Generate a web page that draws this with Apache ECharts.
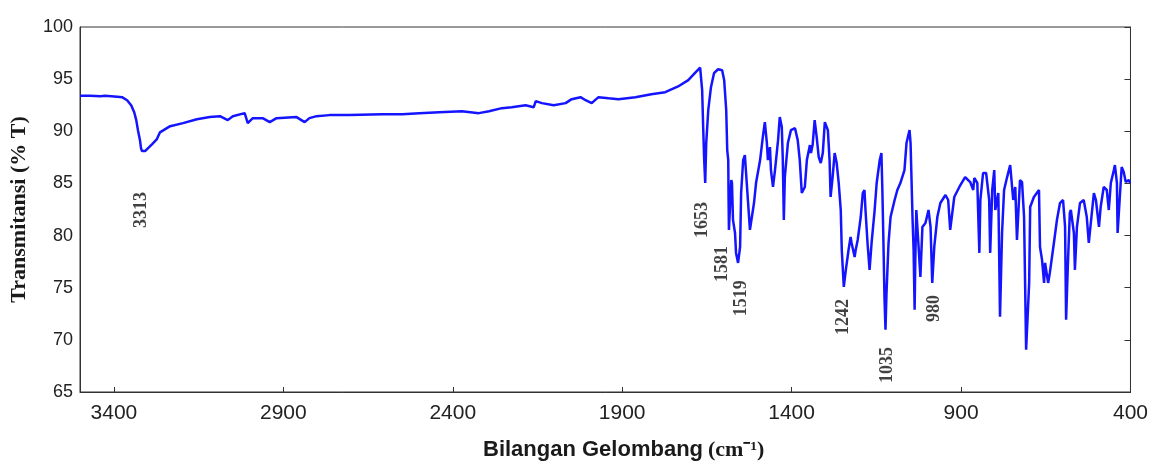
<!DOCTYPE html>
<html>
<head>
<meta charset="utf-8">
<script src="https://cdn.jsdelivr.net/npm/echarts@6/dist/echarts.min.js"></script>
<style>
html,body{margin:0;padding:0;background:#fff;}
#chart{width:1151px;height:461px;}
</style>
</head>
<body>
<div id="chart"></div>
<script>
const wavenumber = [
3500,3470,3440,3426,3390,3376,3361,3349,3340,3334,3329,3323,3320,3317,3308,3299,3287,3273,3264,3234,
3196,3155,3117,3087,3064,3049,3014,3005,2990,2961,2940,2920,2861,2837,2823,2802,2764,2705,2608,2549,
2499,2440,2373,2323,2293,2255,2226,2185,2161,2155,2137,2102,2067,2049,2023,2008,1990,1970,1940,1911,
1861,1814,1773,1735,1705,1685,1670,1664,1661,1658,1655,1652,1646,1638,1629,1617,1605,1599,1593,1590,
1587,1586,1585,1580,1578,1576,1573,1567,1564,1558,1552,1549,1543,1538,1535,1529,1523,1520,1511,1505,
1493,1485,1479,1473,1470,1464,1461,1455,1449,1440,1435,1429,1426,1423,1420,1411,1402,1390,1382,1376,
1370,1361,1355,1346,1343,1338,1332,1326,1320,1314,1308,1302,1293,1288,1285,1279,1273,1267,1261,1255,
1252,1246,1240,1232,1226,1223,1214,1211,1205,1196,1190,1185,1182,1176,1170,1164,1155,1149,1140,1135,
1132,1129,1126,1123,1120,1114,1108,1096,1088,1079,1067,1061,1052,1049,1043,1040,1037,1035,1032,1026,
1020,1014,1005,996,990,985,979,970,961,946,938,932,920,905,888,873,864,861,852,846,
843,835,826,817,814,808,802,799,790,785,779,773,764,755,746,740,735,726,720,714,
711,708,699,696,685,670,667,661,655,652,643,638,626,617,608,599,593,590,585,579,
576,567,564,558,549,538,529,523,514,508,502,493,488,479,470,464,458,449,446,440,
438,432,426,420,414,405,401
];
const transmittance = [
93.4,93.4,93.37,93.4,93.32,93.27,92.98,92.5,91.83,91.07,90.11,89.15,88.39,88.1,88.1,88.39,88.77,89.25,89.9,90.49,
90.78,91.16,91.36,91.45,91.07,91.45,91.74,90.78,91.26,91.26,90.88,91.26,91.36,90.88,91.26,91.45,91.55,91.55,91.64,91.64,
91.74,91.83,91.93,91.74,91.93,92.22,92.31,92.5,92.31,92.89,92.7,92.5,92.7,93.08,93.27,92.98,92.7,93.27,93.17,93.08,
93.27,93.56,93.75,94.3,94.9,95.6,96.1,93.94,90.4,87.24,85.04,88.87,92.03,94.23,95.57,95.95,95.85,94.9,92.03,88.2,
87.24,83.41,80.54,84.08,85.32,85.04,81.5,80.25,78.34,77.38,78.91,84.08,87.24,87.72,86.28,83.41,80.54,81.21,83.12,85.04,
87.24,89.44,90.88,88.87,87.24,88.48,86.28,84.66,86.28,89.15,91.36,90.4,87.24,81.5,85.61,88.87,90.11,90.3,89.15,87.24,
84.08,84.66,87.24,88.68,87.91,88.68,91.07,89.44,87.53,86.95,87.91,90.88,90.11,87.24,83.7,85.61,87.91,86.95,85.04,82.45,
78.62,75.08,76.71,78.62,79.87,79.29,77.95,78.62,79.58,81.78,84.08,84.37,82.45,79.29,76.71,79.29,82.45,85.04,87.24,87.91,
84.08,79.29,74.12,70.97,74.51,79.29,81.78,83.41,84.37,85.04,86.28,88.87,90.11,88.87,81.5,78.62,72.88,77.67,82.45,79.29,
76.04,80.83,81.21,82.45,80.83,75.46,78.91,81.78,83.12,83.89,83.41,80.54,83.7,84.66,85.61,85.13,84.37,85.52,85.04,78.34,
83.41,86.0,86.0,83.41,78.34,84.37,86.28,82.45,84.08,72.21,80.25,84.37,85.61,86.76,83.41,84.66,79.58,85.32,85.13,81.78,
75.46,69.05,75.46,82.74,83.7,84.37,78.91,77.67,75.46,77.38,75.46,76.42,79.29,81.5,83.12,83.41,80.83,71.92,77.0,82.17,
82.45,80.25,76.71,80.83,83.12,83.41,81.78,79.29,82.17,84.08,83.41,80.83,82.74,84.66,84.37,82.45,85.04,86.28,86.76,85.04,
80.25,83.41,86.57,86.09,85.13,85.32,85.04
];
const xTicks = [400, 900, 1400, 1900, 2400, 2900, 3400];
const peakNames = ['3313', '1653', '1581', '1519', '1242', '1035', '980'];
const peakLabelWn = [3318, 1662, 1605, 1549, 1246, 1117, 980];
const peakLabelT = [82.45, 81.5, 77.28, 74.0, 72.2, 67.6, 73.0];

const spectrum = wavenumber.map((w, i) => [w, transmittance[i]]);
const peaks = peakNames.map((n, i) => [peakLabelWn[i], peakLabelT[i], n]);

const chart = echarts.init(document.getElementById('chart'), null, {renderer: 'canvas'});
chart.setOption({
  animation: false,
  backgroundColor: '#ffffff',
  title: {
    left: 478, top: 434,
    text: '{a|Bilangan Gelombang} {b|(cm\u207B\u00B9)}',
    textStyle: {
      rich: {
        a: {fontFamily: 'Liberation Sans, Arial, sans-serif', fontWeight: 'bold', fontSize: 22, color: '#1a1a1a'},
        b: {fontFamily: 'Liberation Serif, Times New Roman, serif', fontWeight: 'bold', fontSize: 22, color: '#1a1a1a'}
      }
    }
  },
  grid: {left: 79, right: 18, top: 27, bottom: 69, show: true, borderColor: '#333', borderWidth: 1, backgroundColor: 'transparent'},
  xAxis: {
    type: 'value', inverse: true, min: 400, max: 3500,
    axisLine: {show: true, lineStyle: {color: '#333', width: 1}},
    axisTick: {show: true, inside: true, length: 5, customValues: xTicks, lineStyle: {color: '#333'}},
    axisLabel: {customValues: xTicks, formatter: v => String(v), fontSize: 21, color: '#222', fontFamily: 'Liberation Sans, Arial, sans-serif', margin: 11},
    splitLine: {show: false}
  },
  yAxis: [{
    type: 'value', min: 65, max: 100, interval: 5, position: 'left',
    axisLine: {show: true, lineStyle: {color: '#333', width: 1}},
    axisTick: {show: false},
    axisLabel: {fontSize: 18, color: '#222', fontFamily: 'Liberation Sans, Arial, sans-serif', margin: 7},
    splitLine: {show: false},
    name: 'Transmitansi (% T)', nameLocation: 'middle', nameGap: 50,
    nameTextStyle: {fontFamily: 'Liberation Serif, Times New Roman, serif', fontWeight: 'bold', fontSize: 22, color: '#1a1a1a'}
  }, {
    type: 'value', min: 65, max: 100, interval: 5, position: 'right',
    axisLine: {show: true, lineStyle: {color: '#333', width: 1}},
    axisTick: {show: true, inside: true, length: 6, lineStyle: {color: '#333'}},
    axisLabel: {show: false},
    splitLine: {show: false}
  }],
  series: [{
    type: 'line', data: spectrum, showSymbol: false, symbol: 'none',
    lineStyle: {color: '#1414ff', width: 2.5}, z: 3
  }, {
    type: 'scatter', data: peaks, symbolSize: 1, itemStyle: {color: 'rgba(0,0,0,0)'},
    label: {
      show: true, position: 'inside', rotate: 90,
      formatter: p => p.data[2],
      fontFamily: 'Liberation Serif, Times New Roman, serif', fontWeight: 'bold', fontSize: 18, color: '#111'
    }, z: 4
  }]
});
</script>
</body>
</html>
